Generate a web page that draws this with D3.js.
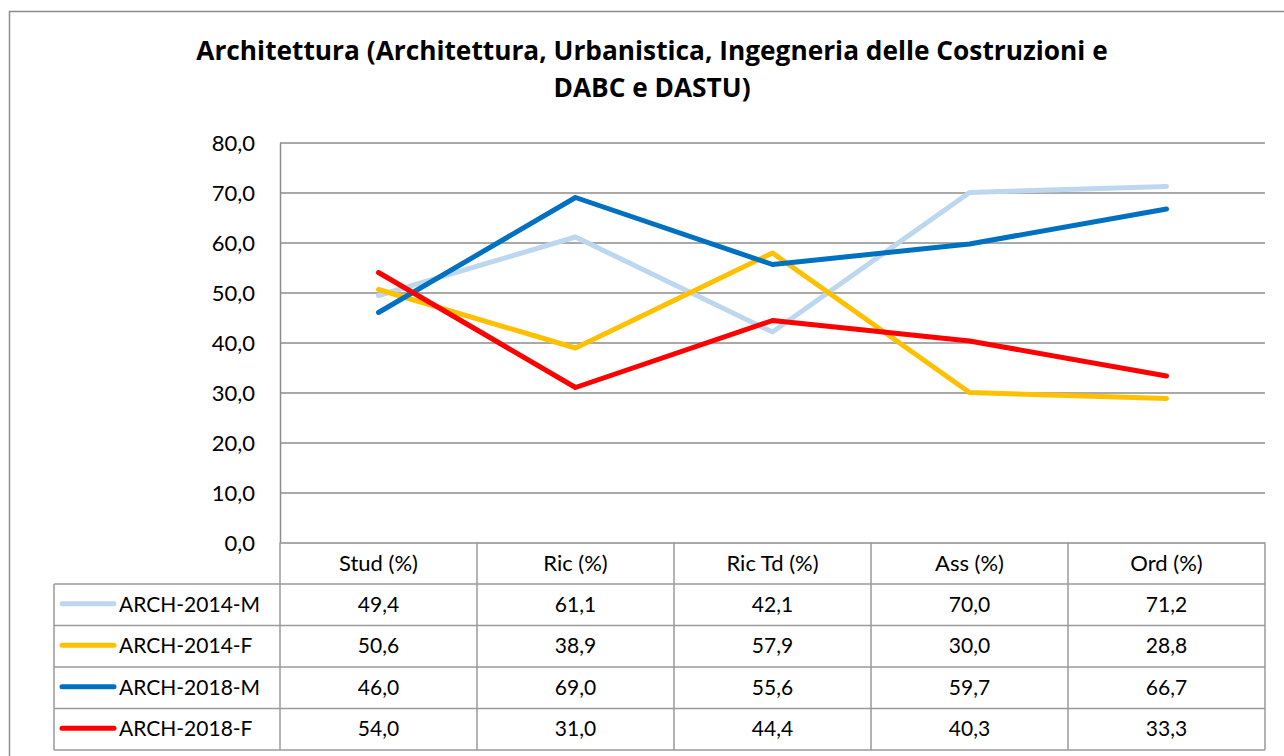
<!DOCTYPE html>
<html lang="it">
<head>
<meta charset="utf-8">
<script src="https://d3js.org/d3.v7.min.js"></script>
<style>
  body { margin: 0; background: #fff; }
  text { font-family: Lato, "Open Sans", sans-serif; fill: #000; }
</style>
</head>
<body>
<script>
// data
const categories = ["Stud (%)", "Ric (%)", "Ric Td (%)", "Ass (%)", "Ord (%)"];
const seriesNames = ["ARCH-2014-M", "ARCH-2014-F", "ARCH-2018-M", "ARCH-2018-F"];
const arch2014M = [49.4, 61.1, 42.1, 70.0, 71.2];
const arch2014F = [50.6, 38.9, 57.9, 30.0, 28.8];
const arch2018M = [46.0, 69.0, 55.6, 59.7, 66.7];
const arch2018F = [54.0, 31.0, 44.4, 40.3, 33.3];
const yTicks = [0, 10, 20, 30, 40, 50, 60, 70, 80];
const colors = ["#bdd7ee", "#ffc000", "#0070c0", "#ff0000"];

const series = [arch2014M, arch2014F, arch2018M, arch2018F].map((v, i) => ({ name: seriesNames[i], values: v, color: colors[i] }));

const W = 1284, H = 756;
const plot = { left: 280, right: 1265, top: 142.5, bottom: 542.5 };
const tableLeft = 54, rowH = 41.5, headerBottom = 584;

const it = d3.formatLocale({ decimal: ",", thousands: ".", grouping: [3], currency: ["", "€"] });
const fmt = it.format(".1f");

const svg = d3.select("body").append("svg")
  .attr("width", W).attr("height", H);

// outer chart border
svg.append("rect")
  .attr("x", 9.5).attr("y", 11.5)
  .attr("width", W).attr("height", H)
  .attr("fill", "#fff")
  .attr("stroke", "#8c8c8c").attr("stroke-width", 1.5);

// title (Open Sans bold is closer in width to the original Calibri bold)
const title = svg.append("text")
  .attr("text-anchor", "middle")
  .style("font-family", "'Open Sans', Lato, sans-serif")
  .style("font-weight", "bold").style("font-size", "24px");
const t1 = title.append("tspan").attr("x", 652).attr("y", 60)
  .text("Architettura (Architettura, Urbanistica, Ingegneria delle Costruzioni e");
title.append("tspan").attr("x", 652).attr("y", 97)
  .text("DABC e DASTU)");
// fit first line to ~912px like the reference
const w1 = t1.node().getComputedTextLength();
if (w1 > 0) title.style("font-size", (24 * 912 / w1).toFixed(2) + "px");

const x = d3.scaleBand().domain(categories).range([plot.left, plot.right]);
const y = d3.scaleLinear().domain([0, 80]).range([plot.bottom, plot.top]);

// gridlines
svg.append("g")
  .attr("transform", `translate(${plot.left},0)`)
  .call(d3.axisLeft(y).tickValues(yTicks).tickSize(-(plot.right - plot.left)).tickFormat(""))
  .call(g => g.select(".domain").remove())
  .call(g => g.selectAll("line").attr("stroke", "#8c8c8c").attr("stroke-width", 1.5));

// y axis
svg.append("g")
  .attr("transform", `translate(${plot.left},0)`)
  .call(d3.axisLeft(y).tickValues(yTicks).tickSize(0).tickPadding(25).tickFormat(fmt))
  .call(g => g.select(".domain").attr("stroke", "#8c8c8c").attr("stroke-width", 1.5))
  .call(g => g.selectAll("text").style("font-size", "22px").attr("font-family", null).attr("dy", "0.35em"));

// lines
const line = d3.line()
  .x((d, i) => x(categories[i]) + x.bandwidth() / 2)
  .y(d => y(d));

svg.append("g").selectAll("path")
  .data(series)
  .join("path")
  .attr("d", d => line(d.values))
  .attr("fill", "none")
  .attr("stroke", d => d.color)
  .attr("stroke-width", 5)
  .attr("stroke-linecap", "round")
  .attr("stroke-linejoin", "round");

// data table
const table = svg.append("g");
const tableBottom = headerBottom + rowH * series.length;
const border = "#9a9a9a";

// header vertical lines
x.domain().concat([null]).forEach(c => {
  const xx = c === null ? plot.right : x(c);
  table.append("line")
    .attr("x1", xx).attr("x2", xx)
    .attr("y1", plot.bottom).attr("y2", tableBottom)
    .attr("stroke", border).attr("stroke-width", 1.5);
});
table.append("line")
  .attr("x1", tableLeft).attr("x2", tableLeft)
  .attr("y1", headerBottom).attr("y2", tableBottom)
  .attr("stroke", border).attr("stroke-width", 1.5);

// horizontal lines
d3.range(series.length + 1).forEach(i => {
  const yy = headerBottom + i * rowH;
  table.append("line")
    .attr("x1", tableLeft).attr("x2", plot.right)
    .attr("y1", yy).attr("y2", yy)
    .attr("stroke", border).attr("stroke-width", 1.5);
});

// header labels
table.selectAll("text.head")
  .data(categories)
  .join("text")
  .attr("class", "head")
  .attr("x", d => x(d) + x.bandwidth() / 2)
  .attr("y", (plot.bottom + headerBottom) / 2 + 8)
  .attr("text-anchor", "middle")
  .style("font-size", "22px")
  .text(d => d);

// rows
series.forEach((s, r) => {
  const cy = headerBottom + r * rowH + rowH / 2;
  table.append("line")
    .attr("x1", 62).attr("x2", 114)
    .attr("y1", cy - 1).attr("y2", cy - 1)
    .attr("stroke", s.color).attr("stroke-width", 5)
    .attr("stroke-linecap", "round");
  table.append("text")
    .attr("x", 119).attr("y", cy + 7)
    .style("font-size", "21px")
    .text(s.name);
  table.selectAll(null)
    .data(s.values)
    .join("text")
    .attr("x", (d, i) => x(categories[i]) + x.bandwidth() / 2)
    .attr("y", cy + 7)
    .attr("text-anchor", "middle")
    .style("font-size", "21px")
    .text(d => fmt(d));
});
</script>
</body>
</html>
